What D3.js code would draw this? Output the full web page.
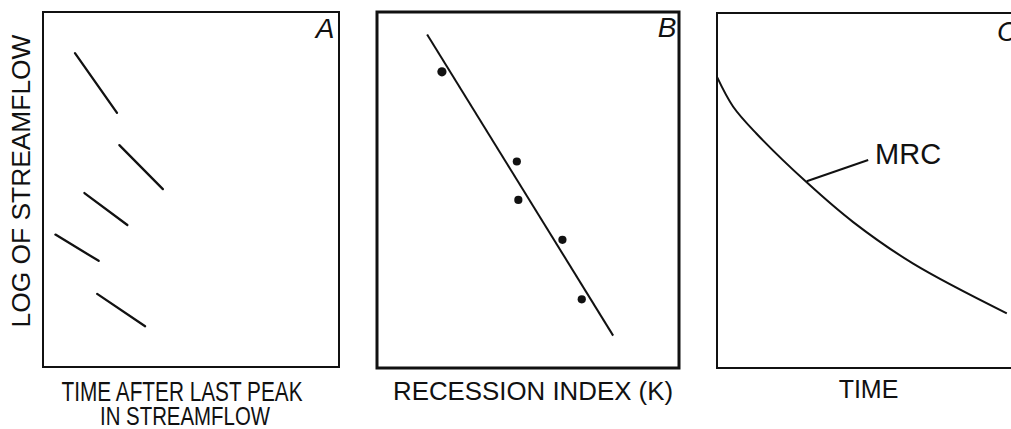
<!DOCTYPE html>
<html><head><meta charset="utf-8">
<script src="https://cdn.jsdelivr.net/npm/d3@7"></script>
<style>
html,body{margin:0;padding:0;background:#fff;}
svg{display:block;}
text{font-family:"Liberation Sans",Arial,Helvetica,sans-serif;fill:#111;}
</style></head>
<body>
<svg id="chart" width="1011" height="429"></svg>
<script>
// Panel A: recession segments (x = time after last peak, y = log streamflow), domain 0-10
const segStartX = [1.08, 2.58, 1.40, 0.42, 1.83];
const segStartY = [8.84, 6.25, 4.90, 3.73, 2.06];
const segEndX   = [2.50, 4.05, 2.85, 1.88, 3.45];
const segEndY   = [7.16, 5.01, 4.00, 2.99, 1.15];

// Panel B: recession index points and fitted line
const ptsX = [2.15, 4.63, 4.68, 6.14, 6.78];
const ptsY = [8.32, 5.80, 4.72, 3.60, 1.93];
const fitX = [1.66, 7.82];
const fitY = [9.37, 0.91];

// Panel C: master recession curve
const mrcX = [0, 0.54, 1.32, 2.99, 4.54, 6.54, 9.66];
const mrcY = [8.20, 7.36, 6.60, 5.23, 4.11, 2.94, 1.54];
const leaderX = [2.99, 5.04];
const leaderY = [5.26, 5.86];

const panelLetters = ["A", "B", "C"];
const xTitles = [["TIME AFTER LAST PEAK", "IN STREAMFLOW"], ["RECESSION INDEX (K)"], ["TIME"]];
const yTitle = "LOG OF STREAMFLOW";
const mrcLabel = "MRC";

const svg = d3.select("#chart");

// Scales per panel
const xA = d3.scaleLinear().domain([0, 10]).range([43, 339]);
const yA = d3.scaleLinear().domain([0, 10]).range([367, 12]);
const xB = d3.scaleLinear().domain([0, 10]).range([377, 679]);
const yB = d3.scaleLinear().domain([0, 10]).range([368, 12]);
const xC = d3.scaleLinear().domain([0, 10]).range([717, 1017]);
const yC = d3.scaleLinear().domain([0, 10]).range([368, 13]);

function frame(x, y, w) {
  svg.append("rect")
    .attr("x", x.range()[0]).attr("y", y.range()[1])
    .attr("width", x.range()[1] - x.range()[0])
    .attr("height", y.range()[0] - y.range()[1])
    .attr("fill", "none").attr("stroke", "#111").attr("stroke-width", w);
}
frame(xA, yA, 2);
frame(xB, yB, 3);
frame(xC, yC, 2);

// Panel A segments
svg.append("g").selectAll("line").data(d3.range(segStartX.length)).join("line")
  .attr("x1", i => xA(segStartX[i])).attr("y1", i => yA(segStartY[i]))
  .attr("x2", i => xA(segEndX[i])).attr("y2", i => yA(segEndY[i]))
  .attr("stroke", "#111").attr("stroke-width", 2.3).attr("stroke-linecap", "round");

// Panel B
svg.append("line")
  .attr("x1", xB(fitX[0])).attr("y1", yB(fitY[0]))
  .attr("x2", xB(fitX[1])).attr("y2", yB(fitY[1]))
  .attr("stroke", "#111").attr("stroke-width", 2);
svg.append("g").selectAll("circle").data(d3.range(ptsX.length)).join("circle")
  .attr("cx", i => xB(ptsX[i])).attr("cy", i => yB(ptsY[i]))
  .attr("r", (d, i) => i === 0 ? 4.6 : 4.1).attr("fill", "#111");

// Panel C
const line = d3.line().x(i => xC(mrcX[i])).y(i => yC(mrcY[i])).curve(d3.curveCatmullRom);
svg.append("path").datum(d3.range(mrcX.length)).attr("d", line)
  .attr("fill", "none").attr("stroke", "#111").attr("stroke-width", 2);
svg.append("line")
  .attr("x1", xC(leaderX[0])).attr("y1", yC(leaderY[0]))
  .attr("x2", xC(leaderX[1])).attr("y2", yC(leaderY[1]))
  .attr("stroke", "#111").attr("stroke-width", 2);
svg.append("text").attr("x", xC(5.27)).attr("y", yC(5.75))
  .attr("font-size", 29).text(mrcLabel);

// Panel letters
svg.append("text").attr("x", 334.5).attr("y", 38).attr("text-anchor", "end")
  .attr("font-size", 28).attr("font-style", "italic").text(panelLetters[0]);
svg.append("text").attr("x", 676.5).attr("y", 37).attr("text-anchor", "end")
  .attr("font-size", 28).attr("font-style", "italic").text(panelLetters[1]);
svg.append("text").attr("x", 997).attr("y", 41)
  .attr("font-size", 28).attr("font-style", "italic").text(panelLetters[2]);

// Axis titles
svg.append("text").attr("transform", "translate(30,181) rotate(-90)")
  .attr("text-anchor", "middle").attr("font-size", 25)
  .attr("textLength", 293).attr("lengthAdjust", "spacingAndGlyphs").text(yTitle);

svg.append("text").attr("x", 182).attr("y", 401).attr("text-anchor", "middle")
  .attr("font-size", 27).attr("textLength", 241).attr("lengthAdjust", "spacingAndGlyphs")
  .text(xTitles[0][0]);
svg.append("text").attr("x", 185).attr("y", 425).attr("text-anchor", "middle")
  .attr("font-size", 26).attr("textLength", 170).attr("lengthAdjust", "spacingAndGlyphs")
  .text(xTitles[0][1]);
svg.append("text").attr("x", 533).attr("y", 400).attr("text-anchor", "middle")
  .attr("font-size", 25).attr("textLength", 280).attr("lengthAdjust", "spacingAndGlyphs")
  .text(xTitles[1][0]);
svg.append("text").attr("x", 868.5).attr("y", 398).attr("text-anchor", "middle")
  .attr("font-size", 25).text(xTitles[2][0]);
</script>
</body></html>
